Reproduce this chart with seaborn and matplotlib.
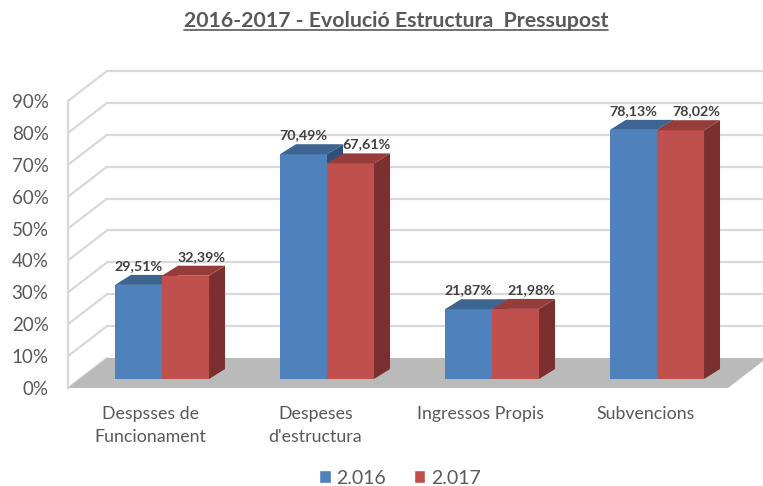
import numpy as np
import pandas as pd
import matplotlib
matplotlib.use("Agg")
import matplotlib.pyplot as plt
from matplotlib.patches import Polygon
from matplotlib.lines import Line2D
from matplotlib.transforms import Affine2D
import seaborn as sns

# ---- data ----
categories = ["Despsses de\nFuncionament", "Despeses\nd'estructura", "Ingressos Propis", "Subvencions"]
years = ["2.016", "2.017"]
values_2016 = [29.51, 70.49, 21.87, 78.13]
values_2017 = [32.39, 67.61, 21.98, 78.02]
yticks = [0, 10, 20, 30, 40, 50, 60, 70, 80, 90]
title = "2016-2017 - Evolució Estructura  Pressupost"

df = pd.DataFrame({
    "cat": categories * 2,
    "year": [years[0]] * 4 + [years[1]] * 4,
    "val": values_2016 + values_2017,
})

sns.set_theme(style="white")
FONT = ["Lato", "DejaVu Sans"]
plt.rcParams["font.family"] = FONT

BLUE, RED = "#4F81BD", "#C0504D"
BLUE_TOP, RED_TOP = "#3D6591", "#963C3A"
BLUE_SIDE, RED_SIDE = "#2F5079", "#7B2F2E"
GRID = "#D9D9D9"
TXT = "#595959"

W, H = 763, 486
fig = plt.figure(figsize=(W / 100, H / 100), dpi=100)
ax = fig.add_axes([68 / W, (H - 388) / H, 660 / W, 287 / H])

sns.barplot(data=df, x="cat", y="val", hue="year", palette=[BLUE, RED],
            width=0.57, ax=ax, saturation=1, legend=True, zorder=3)
ax.set_xlim(-0.5, 3.5)
ax.set_ylim(0, 90)
for s in ax.spines.values():
    s.set_visible(False)
ax.set_xlabel("")
ax.set_ylabel("")
ax.set_yticks(yticks)
ax.set_yticklabels([f"{t}%" for t in yticks])
ax.tick_params(axis="y", length=0, pad=14, labelsize=13.5, labelcolor=TXT)
ax.tick_params(axis="x", length=0, pad=13, labelsize=12.8, labelcolor=TXT)
for t in ax.get_xticklabels():
    t.set_linespacing(1.55)
ax.grid(False)

# pixel -> data scale
p0 = ax.transData.transform((0, 0))
sx = ax.transData.transform((1, 0))[0] - p0[0]
sy = ax.transData.transform((0, 1))[1] - p0[1]

# wall depth (pixels)
WDX, WDY = 39, 30
wdx, wdy = WDX / sx, WDY / sy
# floor
floor = Polygon([(-0.5, 0), (3.5, 0), (3.5 + wdx, wdy), (-0.5 + wdx, wdy)],
                closed=True, facecolor="#BABABA", edgecolor="none", zorder=1, clip_on=False)
ax.add_patch(floor)
# back wall gridlines and side wall diagonals
for t in yticks[1:]:
    ax.add_line(Line2D([-0.5 + wdx, 3.5 + wdx], [t + wdy, t + wdy], color=GRID, lw=1.6,
                       zorder=0.5, clip_on=False))
    ax.add_line(Line2D([-0.5, -0.5 + wdx], [t, t + wdy], color=GRID, lw=1.6,
                       zorder=0.5, clip_on=False))
ax.add_line(Line2D([-0.5, -0.5 + wdx], [0, wdy], color=GRID, lw=1.6, zorder=0.5, clip_on=False))
ax.add_line(Line2D([-0.5, -0.5], [0, 90], color=GRID, lw=1.6, zorder=0.5, clip_on=False))

# bars: shift front faces into depth, add top and side faces
FX, FY = 11.5, 9
BDX, BDY = 16, 10
bdx, bdy = BDX / sx, BDY / sy
bar_tr = ax.transData + Affine2D().translate(FX, FY)
bars = [p for p in ax.patches if p is not floor and p.get_height() > 0]
bars = sorted(bars, key=lambda p: p.get_x())
for p in bars:
    x0, w, h = p.get_x(), p.get_width(), p.get_height()
    is_red = matplotlib.colors.to_hex(p.get_facecolor()).lower() == RED.lower()
    z = 4 if is_red else 3
    p.set_transform(bar_tr)
    p.set_zorder(z)
    p.set_edgecolor("none")
    top_c = RED_TOP if is_red else BLUE_TOP
    side_c = RED_SIDE if is_red else BLUE_SIDE
    ax.add_patch(Polygon([(x0 + w, 0), (x0 + w + bdx, bdy), (x0 + w + bdx, h + bdy), (x0 + w, h)],
                         closed=True, facecolor=side_c, edgecolor="none", zorder=z,
                         transform=bar_tr, clip_on=False))
    ax.add_patch(Polygon([(x0, h), (x0 + w, h), (x0 + w + bdx, h + bdy), (x0 + bdx, h + bdy)],
                         closed=True, facecolor=top_c, edgecolor="none", zorder=z,
                         transform=bar_tr, clip_on=False))
    lab = f"{h:.2f}%".replace(".", ",")
    xoff = FX + (BDX if is_red else 0)
    ax.text(x0 + w / 2, h, lab, transform=ax.transData + Affine2D().translate(xoff, FY + BDY + 3),
            ha="center", va="bottom", fontsize=10.3, fontweight="bold", color="#404040",
            zorder=6, clip_on=False)

# legend
leg = ax.legend(loc="center", bbox_to_anchor=(400 / W, 8 / H), bbox_transform=fig.transFigure,
                ncol=2, frameon=False, handlelength=0.6, handleheight=0.6, handletextpad=0.3,
                columnspacing=1.4, fontsize=14, title=None)
for t in leg.get_texts():
    t.set_color(TXT)

# title with underline
ttl = fig.text(396 / W, (H - 21) / H, title, ha="center", va="center", fontsize=15.3,
               fontweight="bold", color=TXT)
fig.canvas.draw()
bb = ttl.get_window_extent(fig.canvas.get_renderer())
uy = bb.y0 + 1
fig.add_artist(Line2D([bb.x0 / W, bb.x1 / W], [uy / H, uy / H], color=TXT, lw=1.2,
                      transform=fig.transFigure))

fig.savefig("out.png", dpi=100)
